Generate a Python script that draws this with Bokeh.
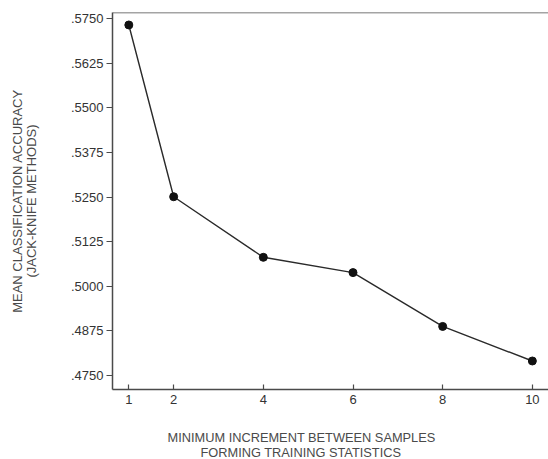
from bokeh.plotting import figure
from bokeh.models import Range1d, FixedTicker, Span, Title, CustomJSTickFormatter
from bokeh.embed import file_html
from bokeh.resources import INLINE

# Mean classification accuracy versus minimum sample increment
increments = [1, 2, 4, 6, 8, 10]
accuracy = [0.5733, 0.5251, 0.5081, 0.5038, 0.4887, 0.4790]
y_ticks = [0.4750, 0.4875, 0.5000, 0.5125, 0.5250, 0.5375, 0.5500, 0.5625, 0.5750]
x_ticks = [1, 2, 4, 6, 8, 10]

FONT = "Liberation Sans"
INK = "#2a2a2a"
GREY = "#4a4a4a"

LEFT, TOP, FW, FH, BOTTOM = 112, 12, 436, 377, 70
X0, X1 = 0.636, 10.36
Y0, Y1 = 0.4710, 0.5768

p = figure(
    frame_width=FW, frame_height=FH,
    min_border_left=LEFT, min_border_right=0,
    min_border_top=TOP, min_border_bottom=BOTTOM,
    x_range=Range1d(X0, X1), y_range=Range1d(Y0, Y1),
    output_backend="svg", toolbar_location=None,
)
p.background_fill_color = "white"
p.border_fill_color = "white"
p.outline_line_color = None
p.xgrid.grid_line_color = None
p.ygrid.grid_line_color = None

# top edge of the frame
p.add_layout(Span(location=Y1, dimension="width", line_color=GREY, line_width=1.3))

for ax in (p.xaxis[0], p.yaxis[0]):
    ax.axis_line_color = GREY
    ax.axis_line_width = 1.5
    ax.major_tick_line_color = GREY
    ax.major_tick_line_width = 1.2
    ax.minor_tick_line_color = None
    ax.major_label_text_font = FONT
    ax.major_label_text_font_size = "13px"
    ax.major_label_text_color = "#333333"

p.xaxis.ticker = FixedTicker(ticks=x_ticks)
p.xaxis.major_tick_in = 5
p.xaxis.major_tick_out = 0
p.xaxis.major_label_standoff = 5

p.yaxis.ticker = FixedTicker(ticks=y_ticks)
p.yaxis.major_tick_in = 0
p.yaxis.major_tick_out = 6
p.yaxis.major_label_standoff = 3
p.yaxis.formatter = CustomJSTickFormatter(code="return tick.toFixed(4).replace(/^0/, '');")

# y-axis title on two lines
p.yaxis.axis_label = "MEAN CLASSIFICATION ACCURACY\n(JACK-KNIFE METHODS)"
p.yaxis.axis_label_text_font = FONT
p.yaxis.axis_label_text_font_size = "13px"
p.yaxis.axis_label_text_font_style = "normal"
p.yaxis.axis_label_text_color = GREY
p.yaxis.axis_label_text_align = "center"
p.yaxis.axis_label_text_line_height = 0.95
p.yaxis.axis_label_standoff = 29

p.line(increments, accuracy, line_color=INK, line_width=1.4)
p.scatter(increments, accuracy, size=8, fill_color="#111111", line_color="#111111")

# x-axis title: a blank spacer row, then two lines set close together
title_style = dict(text_font=FONT, text_font_size="12.8px", text_font_style="normal",
                   text_color=GREY, align="left")
p.add_layout(Title(text=" ", standoff=4, **title_style), "below")
p.add_layout(Title(text="MINIMUM INCREMENT BETWEEN SAMPLES", offset=55, standoff=0,
                   vertical_align="bottom", **title_style), "below")
p.add_layout(Title(text="FORMING TRAINING STATISTICS", offset=88, standoff=0,
                   vertical_align="top", **title_style), "below")

open("out.html", "w").write(file_html(p, INLINE))
